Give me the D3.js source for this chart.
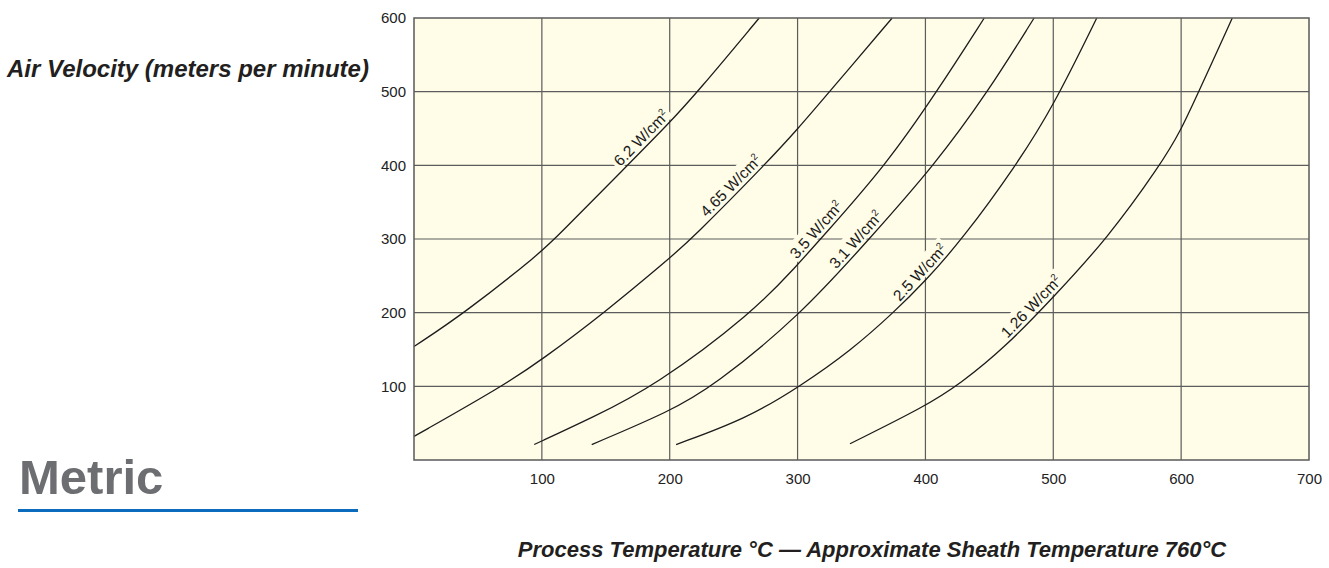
<!DOCTYPE html>
<html><head><meta charset="utf-8">
<script src="https://cdn.jsdelivr.net/npm/d3@7"></script>
<style>html,body{margin:0;padding:0;background:#fff}svg{display:block}</style>
</head><body><svg id="c" width="1329" height="568"></svg>
<script>
// ---- data ----
const xTickValues = [100, 200, 300, 400, 500, 600, 700];
const yTickValues = [100, 200, 300, 400, 500, 600];
const seriesNames = ["6.2", "4.65", "3.5", "3.1", "2.5", "1.26"];
const curve62  = [[0,154],[40,200],[100,283],[110,300],[167,400],[200,458],[222,500],[270,600]];
const curve465 = [[0,32],[69,100],[100,136],[149,200],[200,274],[217,300],[274,400],[300,449],[325,500],[374,600]];
const curve35  = [[94,21],[140,58],[188,100],[265,200],[300,265],[318,300],[369,400],[409,500],[446,600]];
const curve31  = [[139,21],[200,66],[234,100],[302,196],[356,300],[407,400],[449,500],[485,600]];
const curve25  = [[205,21],[260,56],[302,100],[342,149],[375,200],[400,243],[429,300],[471,400],[500,480],[534,600]];
const curve126 = [[341,22],[400,73],[427,103],[463,154],[500,221],[542,300],[584,401],[600,448],[614,501],[640,600]];
const seriesValues = [curve62, curve465, curve35, curve31, curve25, curve126];
const labelAtX = [183, 253, 320, 351, 401, 488];

// ---- layout ----
const svg = d3.select("#c");
const X0 = 414, X1 = 1309, Y0 = 460, Y1 = 18;
const x = d3.scaleLinear().domain([0, 700]).range([X0, X1]);
const y = d3.scaleLinear().domain([0, 600]).range([Y0, Y1]);
const FONT = "'Liberation Sans', Arial, Helvetica, sans-serif";
const gridColor = "#5c5c5c";
const bgColor = "#fffce8";

svg.append("rect").attr("x", X0).attr("y", Y1).attr("width", X1 - X0).attr("height", Y0 - Y1)
  .attr("fill", bgColor);

const grid = svg.append("g");
grid.selectAll(".vg").data(xTickValues.filter(d => d < 700)).join("line")
  .attr("x1", d => x(d)).attr("x2", d => x(d)).attr("y1", Y1).attr("y2", Y0)
  .attr("stroke", gridColor).attr("stroke-width", 1.2);
grid.selectAll(".hg").data(yTickValues.filter(d => d < 600)).join("line")
  .attr("y1", d => y(d)).attr("y2", d => y(d)).attr("x1", X0).attr("x2", X1)
  .attr("stroke", gridColor).attr("stroke-width", 1.2);

// axes (labels only)
const xAxis = d3.axisBottom(x).tickValues(xTickValues).tickSize(0).tickPadding(13);
const gx = svg.append("g").attr("transform", `translate(0,${Y0})`).call(xAxis);
const yAxis = d3.axisLeft(y).tickValues(yTickValues).tickSize(0).tickPadding(8);
const gy = svg.append("g").attr("transform", `translate(${X0},0)`).call(yAxis);
[gx, gy].forEach(g => {
  g.select(".domain").remove();
  g.selectAll("text").attr("font-family", FONT).attr("font-size", 15).attr("fill", "#222");
});

const line = d3.line().x(d => x(d[0])).y(d => y(d[1])).curve(d3.curveBasis);

const bgLayer = svg.append("g");
const curveLayer = svg.append("g");
const textLayer = svg.append("g");

seriesValues.forEach((pts, i) => {
  curveLayer.append("path").attr("d", line(pts)).attr("fill", "none")
    .attr("stroke", "#1c1c1c").attr("stroke-width", 1.3);
});

// labels along curves
seriesValues.forEach((pts, i) => {
  const path = curveLayer.selectAll("path").nodes()[i];
  const L = path.getTotalLength();
  const tx = x(labelAtX[i]);
  let lo = 0, hi = L;
  for (let k = 0; k < 40; k++) {
    const mid = (lo + hi) / 2;
    if (path.getPointAtLength(mid).x < tx) lo = mid; else hi = mid;
  }
  const p = path.getPointAtLength(lo);
  const p1 = path.getPointAtLength(Math.max(0, lo - 20));
  const p2 = path.getPointAtLength(Math.min(L, lo + 20));
  const ang = Math.atan2(p2.y - p1.y, p2.x - p1.x) * 180 / Math.PI;
  const tf = `translate(${p.x},${p.y}) rotate(${ang})`;
  const g = textLayer.append("g").attr("transform", tf);
  const t = g.append("text").attr("x", 0).attr("y", -4).attr("text-anchor", "middle")
    .attr("font-family", FONT).attr("font-size", 15.5).attr("fill", "#1a1a1a");
  t.append("tspan").text(seriesNames[i] + " W/cm");
  t.append("tspan").text("2").attr("font-size", 9.5).attr("dy", -6);
  const bb = t.node().getBBox();
  bgLayer.append("g").attr("transform", tf).append("rect")
    .attr("x", bb.x - 3).attr("y", bb.y - 1).attr("width", bb.width + 6).attr("height", bb.height)
    .attr("fill", bgColor);
});

// border
svg.append("rect").attr("x", X0).attr("y", Y1).attr("width", X1 - X0).attr("height", Y0 - Y1)
  .attr("fill", "none").attr("stroke", "#5a5a5a").attr("stroke-width", 1.5);

// titles
svg.append("text").attr("x", 7).attr("y", 77)
  .attr("font-family", FONT).attr("font-weight", "bold").attr("font-style", "italic")
  .attr("font-size", 24).attr("fill", "#231f20").text("Air Velocity (meters per minute)");

svg.append("text").attr("x", 872).attr("y", 557).attr("text-anchor", "middle")
  .attr("font-family", FONT).attr("font-weight", "bold").attr("font-style", "italic")
  .attr("font-size", 22).attr("fill", "#231f20")
  .text("Process Temperature °C — Approximate Sheath Temperature 760°C");

svg.append("text").attr("x", 19).attr("y", 494)
  .attr("font-family", FONT).attr("font-weight", "bold")
  .attr("font-size", 49).attr("fill", "#6d6e71").text("Metric");

svg.append("line").attr("x1", 18).attr("x2", 358).attr("y1", 510.5).attr("y2", 510.5)
  .attr("stroke", "#0b6bbd").attr("stroke-width", 3);
</script></body></html>
